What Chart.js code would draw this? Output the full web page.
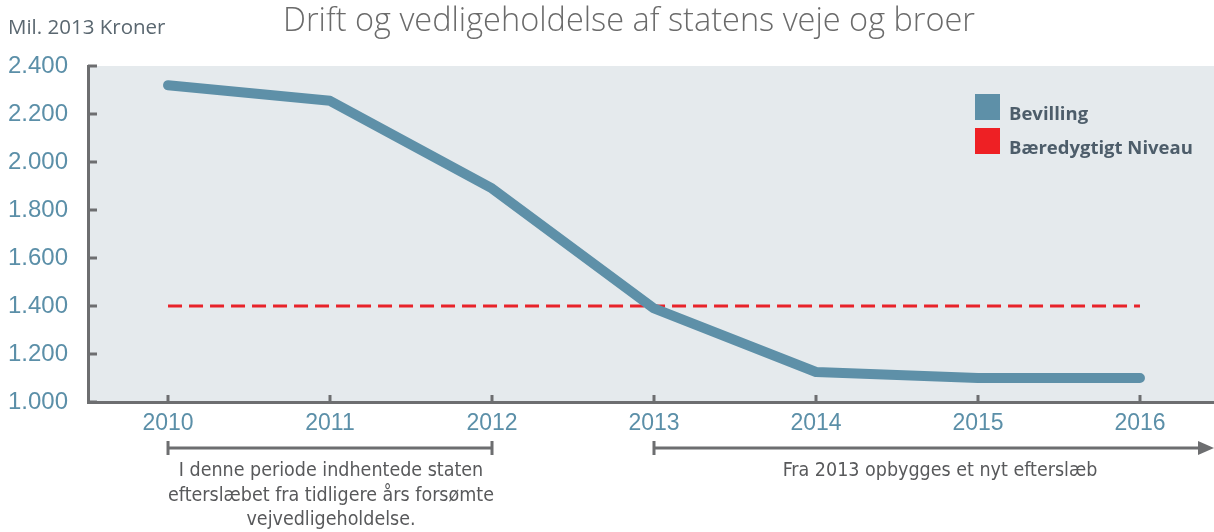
<!DOCTYPE html>
<html>
<head>
<meta charset="utf-8">
<script src="https://cdn.jsdelivr.net/npm/chart.js@4.4.1/dist/chart.umd.min.js"></script>
<style>
  html, body { margin: 0; padding: 0; background: #fff; }
</style>
</head>
<body>
<canvas id="chart" width="1214" height="532"></canvas>
<script>
// Data
const years = [2010, 2011, 2012, 2013, 2014, 2015, 2016];
const bevilling = [2320, 2255, 1890, 1390, 1125, 1100, 1100];
const niveauYears = [2010, 2016];
const niveau = [1400, 1400];
const yTicks = [1000, 1200, 1400, 1600, 1800, 2000, 2200, 2400];

const chartTitle = 'Drift og vedligeholdelse af statens veje og broer';
const unitLabel = 'Mil. 2013 Kroner';
const noteLeft = ['I denne periode indhentede staten', 'efterslæbet fra tidligere års forsømte', 'vejvedligeholdelse.'];
const noteRight = ['Fra 2013 opbygges et nyt efterslæb'];

const axisColor = '#6d6e70';
const tickColor = '#5b8fa8';
const textColor = '#58595b';

function fmt(v) {
  return String(v).replace(/\B(?=(\d{3})+(?!\d))/g, '.');
}

// background, title, legend, inward ticks, notes
const decorations = {
  id: 'decorations',
  beforeDraw(chart) {
    const { ctx, chartArea: a } = chart;
    ctx.save();
    ctx.fillStyle = '#e5eaed';
    ctx.fillRect(a.left, a.top, a.right - a.left, a.bottom - a.top);
    ctx.restore();
  },
  afterDraw(chart) {
    const { ctx, chartArea: a, scales: { x, y } } = chart;
    ctx.save();

    // title + unit
    ctx.fillStyle = '#6b6b6b';
    ctx.font = '300 32.5px "Open Sans", sans-serif';
    ctx.textAlign = 'center';
    ctx.textBaseline = 'middle';
    ctx.fillText(chartTitle, 629, 22);
    ctx.fillStyle = '#5a6770';
    ctx.font = '20.5px "Open Sans", sans-serif';
    ctx.textAlign = 'left';
    ctx.fillText(unitLabel, 8, 28);

    // inward tick marks
    ctx.strokeStyle = axisColor;
    ctx.lineWidth = 3;
    yTicks.forEach(v => {
      const py = y.getPixelForValue(v);
      ctx.beginPath();
      ctx.moveTo(a.left, py);
      ctx.lineTo(a.left + 9, py);
      ctx.stroke();
    });
    years.forEach(v => {
      const px = Math.round(x.getPixelForValue(v));
      ctx.beginPath();
      ctx.moveTo(px, a.bottom);
      ctx.lineTo(px, a.bottom - 7);
      ctx.stroke();
    });

    // legend
    chart.data.datasets.forEach((ds, i) => {
      const ly = 94 + i * 34;
      ctx.fillStyle = ds.legendColor;
      ctx.fillRect(975, ly, 25, 26);
      ctx.fillStyle = '#4d5d6a';
      ctx.font = 'bold 18.5px "Open Sans", sans-serif';
      ctx.textAlign = 'left';
      ctx.textBaseline = 'alphabetic';
      ctx.fillText(ds.label, 1009, ly + 26);
    });

    // period brackets
    const by = 448;
    const x0 = x.getPixelForValue(years[0]);
    const x2 = x.getPixelForValue(years[2]);
    const x3 = x.getPixelForValue(years[3]);
    ctx.strokeStyle = axisColor;
    ctx.lineWidth = 3;
    ctx.beginPath();
    ctx.moveTo(x0, by); ctx.lineTo(x2, by);
    ctx.moveTo(x0, by - 7); ctx.lineTo(x0, by + 7);
    ctx.moveTo(x2, by - 7); ctx.lineTo(x2, by + 7);
    ctx.moveTo(x3, by - 7); ctx.lineTo(x3, by + 7);
    ctx.moveTo(x3, by); ctx.lineTo(a.right - 12, by);
    ctx.stroke();
    ctx.fillStyle = axisColor;
    ctx.beginPath();
    ctx.moveTo(a.right, by);
    ctx.lineTo(a.right - 16, by - 7);
    ctx.lineTo(a.right - 16, by + 7);
    ctx.closePath();
    ctx.fill();

    ctx.fillStyle = textColor;
    ctx.font = '19.5px "DejaVu Sans Condensed", sans-serif';
    ctx.textAlign = 'center';
    ctx.textBaseline = 'middle';
    noteLeft.forEach((t, i) => ctx.fillText(t, (x0 + x2) / 2 + 1, 471 + i * 24.5));
    noteRight.forEach((t, i) => ctx.fillText(t, 940, 471 + i * 24.5));

    ctx.restore();
  }
};

new Chart(document.getElementById('chart'), {
  type: 'line',
  data: {
    datasets: [{
      label: 'Bevilling',
      data: years.map((yr, i) => ({ x: yr, y: bevilling[i] })),
      borderColor: '#5e90a8',
      legendColor: '#5e90a8',
      borderWidth: 10,
      borderCapStyle: 'round',
      borderJoinStyle: 'round',
      pointRadius: 0,
      tension: 0
    }, {
      label: 'Bæredygtigt Niveau',
      data: niveauYears.map((yr, i) => ({ x: yr, y: niveau[i] })),
      borderColor: '#e8232a',
      legendColor: '#ee2024',
      borderWidth: 3,
      borderDash: [14, 7],
      pointRadius: 0
    }]
  },
  options: {
    responsive: false,
    animation: false,
    layout: { padding: { left: 8, top: 66, right: 0, bottom: 90 } },
    plugins: {
      legend: { display: false },
      tooltip: { enabled: false }
    },
    scales: {
      x: {
        type: 'linear',
        min: 2009.506,
        max: 2016.457,
        afterBuildTicks: s => { s.ticks = years.map(v => ({ value: v })); },
        afterFit: s => { s.height = 40; },
        grid: { display: false, drawTicks: false },
        border: { display: true, color: axisColor, width: 3 },
        ticks: {
          color: tickColor,
          padding: 8,
          font: { family: 'Liberation Sans', size: 23 },
          callback: v => String(v),
          autoSkip: false,
          maxRotation: 0
        }
      },
      y: {
        min: 1000,
        max: 2400,
        afterBuildTicks: s => { s.ticks = yTicks.map(v => ({ value: v })); },
        afterFit: s => { s.width = 80; },
        grid: { display: false, drawTicks: false },
        border: { display: true, color: axisColor, width: 3 },
        ticks: {
          color: tickColor,
          crossAlign: 'far',
          font: { family: 'Liberation Sans', size: 24 },
          callback: v => fmt(v)
        }
      }
    }
  },
  plugins: [decorations]
});
</script>
</body>
</html>
